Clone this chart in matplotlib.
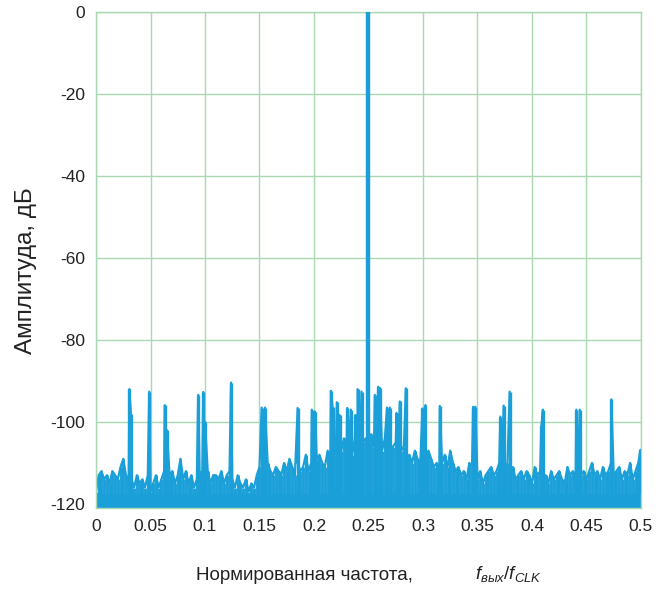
import numpy as np
import matplotlib
matplotlib.use('Agg')
import matplotlib.pyplot as plt

plt.rcParams['font.family'] = ['Liberation Sans', 'DejaVu Sans']
plt.rcParams['mathtext.fontset'] = 'custom'
plt.rcParams['mathtext.it'] = 'Liberation Sans:italic'
plt.rcParams['mathtext.rm'] = 'Liberation Sans'

# noise "grass" upper level, read every 0.0025 of normalised frequency
noise_step = 0.0025
noise_db = [
    -117, -113, -112, -114, -113, -115, -112, -113, -114, -111,
    -109, -113, -115, -114, -116, -113, -115, -114, -116, -113,
    -117, -115, -113, -116, -114, -112, -111, -113, -112, -115,
    -113, -109, -114, -112, -115, -113, -116, -114, -112, -113,
    -114, -112, -115, -113, -113, -114, -112, -115, -113, -112,
    -114, -116, -113, -115, -116, -114, -117, -115, -116, -113,
    -111, -113, -112, -110, -112, -113, -111, -112, -113, -110,
    -112, -109, -111, -113, -110, -112, -111, -108, -112, -110,
    -111, -109, -108, -110, -111, -107, -109, -106, -108, -105,
    -107, -104, -106, -105, -108, -104, -106, -103, -105, -104,
    -104, -103, -106, -104, -105, -107, -104, -106, -108, -106,
    -105, -108, -107, -106, -109, -108, -110, -107, -109, -110,
    -108, -110, -107, -109, -111, -110, -112, -110, -108, -111,
    -107, -110, -112, -111, -113, -112, -114, -110, -111, -113,
    -114, -112, -115, -113, -112, -111, -113, -112, -110, -111,
    -112, -110, -113, -111, -114, -113, -112, -114, -112, -113,
    -115, -111, -113, -112, -114, -113, -115, -112, -114, -113,
    -112, -114, -115, -111, -113, -112, -115, -110, -113, -112,
    -114, -112, -110, -113, -112, -114, -111, -113, -112, -110,
    -113, -112, -111, -114, -112, -113, -110, -114, -112, -110,
    -107,
]
noise_floor = -117.5

# spurs (frequency, level dB)
spur_f = [0.0306, 0.032, 0.0489, 0.063, 0.065, 0.0938, 0.0984, 0.100,
          0.1239, 0.152, 0.155, 0.185, 0.198, 0.201, 0.2155, 0.217,
          0.221, 0.2235, 0.2305, 0.2338, 0.238, 0.240, 0.2436, 0.2558,
          0.2589, 0.2604, 0.267, 0.2695, 0.2757, 0.2787, 0.2842, 0.2995,
          0.3022, 0.3154, 0.346, 0.348, 0.371, 0.374, 0.3795, 0.4086,
          0.410, 0.4407, 0.4438, 0.4728, 0.4995]
spur_db = [-92, -98, -92.6, -95.9, -102, -93.4, -92.7, -100,
           -90.4, -96.5, -96.5, -96.6, -97, -97.5, -92.4, -96.3,
           -95.2, -98.3, -96.6, -97, -98.3, -92, -92.6, -93.4,
           -91.4, -91.7, -96.5, -96.5, -97.8, -95, -91.8, -96.7,
           -95.9, -96.1, -96.3, -96.3, -98.7, -96, -92.6, -101,
           -97, -97, -97, -94.5, -106.8]

carrier_f = 0.25
carrier_db = 0

xticks = [0, 0.05, 0.1, 0.15, 0.2, 0.25, 0.3, 0.35, 0.4, 0.45, 0.5]
xtick_labels = ['0', '0.05', '0.1', '0.15', '0.2', '0.25', '0.3', '0.35', '0.4', '0.45', '0.5']
yticks = [0, -20, -40, -60, -80, -100, -120]
ytick_labels = ['0', '-20', '-40', '-60', '-80', '-100', '-120']

blue = '#1a9fd8'
green = '#a9d8b2'

fig = plt.figure(figsize=(6.63, 5.89), dpi=100)
ax = fig.add_axes([0.1448, 0.1375, 0.822, 0.842])

nf = np.arange(len(noise_db)) * noise_step
# one trace through noise samples and spur peaks
tr_f = np.concatenate([nf, spur_f])
tr_db = np.concatenate([noise_db, spur_db])
order = np.argsort(tr_f)
tr_f, tr_db = tr_f[order], tr_db[order]

ax.fill_between(nf, -122, noise_floor, color=blue, lw=0, zorder=2)
ax.vlines(nf, -122, noise_db, color=blue, lw=2.1, zorder=2)
ax.plot(tr_f, tr_db, color=blue, lw=1.6, zorder=2)
ax.vlines(spur_f, noise_floor, spur_db, color=blue, lw=2.4, zorder=3)
ax.vlines([carrier_f], noise_floor, [carrier_db], color=blue, lw=3.2, zorder=3)

ax.set_xlim(0, 0.5)
ax.set_ylim(-121, 0)
ax.set_xticks(xticks)
ax.set_xticklabels(xtick_labels)
ax.set_yticks(yticks)
ax.set_yticklabels(ytick_labels)
ax.tick_params(length=0, labelsize=12.5, colors='#222222', pad=8)
ax.grid(True, color=green, lw=1.0, zorder=1)
ax.set_axisbelow(True)
for s in ax.spines.values():
    s.set_color(green)
    s.set_linewidth(1.0)

ax.set_ylabel('Амплитуда, дБ', fontsize=17.5, color='#222222')
ax.yaxis.set_label_coords(-0.108, 0.478)
fig.text(413 / 663, 0.008, 'Нормированная частота,',
         ha='right', va='bottom', fontsize=13.5, color='#222222')
fig.text(475 / 663, 0.008, '$f_{вых}/f_{CLK}$',
         ha='left', va='bottom', fontsize=13.5, color='#222222')

fig.savefig('out.png', dpi=100)
